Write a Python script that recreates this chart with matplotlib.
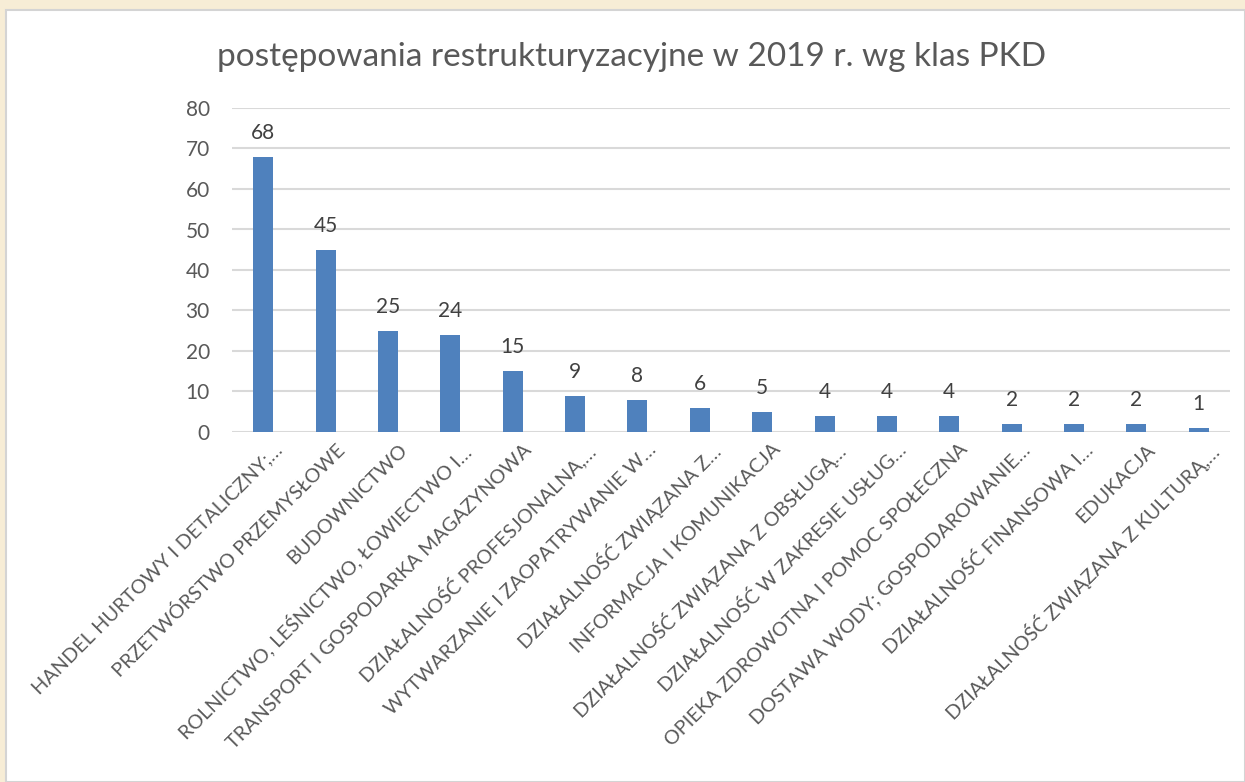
import matplotlib
matplotlib.use("Agg")
import matplotlib.pyplot as plt
from matplotlib.patches import Rectangle
import matplotlib.transforms as mtransforms

categories = [
    "HANDEL HURTOWY I DETALICZNY;…",
    "PRZETWÓRSTWO PRZEMYSŁOWE",
    "BUDOWNICTWO",
    "ROLNICTWO, LEŚNICTWO, ŁOWIECTWO I…",
    "TRANSPORT I GOSPODARKA MAGAZYNOWA",
    "DZIAŁALNOŚĆ PROFESJONALNA,…",
    "WYTWARZANIE I ZAOPATRYWANIE W…",
    "DZIAŁALNOŚĆ ZWIĄZANA Z…",
    "INFORMACJA I KOMUNIKACJA",
    "DZIAŁALNOŚĆ ZWIĄZANA Z OBSŁUGĄ…",
    "DZIAŁALNOŚĆ W ZAKRESIE USŁUG…",
    "OPIEKA ZDROWOTNA I POMOC SPOŁECZNA",
    "DOSTAWA WODY; GOSPODAROWANIE…",
    "DZIAŁALNOŚĆ FINANSOWA I…",
    "EDUKACJA",
    "DZIAŁALNOŚĆ ZWIĄZANA Z KULTURĄ,…",
]
values = [68, 45, 25, 24, 15, 9, 8, 6, 5, 4, 4, 4, 2, 2, 2, 1]
y_ticks = [0, 10, 20, 30, 40, 50, 60, 70, 80]
title = "postępowania restrukturyzacyjne w 2019 r. wg klas PKD"

plt.rcParams['font.family'] = ['Lato', 'DejaVu Sans']
txt_color = "#595959"

fig = plt.figure(figsize=(12.45, 7.82), dpi=100)
fig.patch.set_facecolor("#F7EDD6")
W, H = 1245, 782
panel = Rectangle((6 / W, 0), 1 - 6 / W, 1 - 10 / H, transform=fig.transFigure,
                  facecolor="white", edgecolor="#D4D4D4", linewidth=1.5, zorder=-5)
fig.patches.append(panel)

left, right, bottom, top = 232 / W, 1230 / W, 1 - 432 / H, 1 - 108 / H
ax = fig.add_axes([left, bottom, right - left, top - bottom])
ax.set_zorder(2)
ax.set_facecolor("none")

x = list(range(len(values)))
ax.bar(x, values, width=0.32, color="#4F81BD", zorder=3)
ax.set_xlim(-0.5, len(values) - 0.5)
ax.set_ylim(0, 80)
ax.set_yticks(y_ticks)
ax.yaxis.grid(True, color="#D9D9D9", linewidth=1.5, zorder=0)
for s in ax.spines.values():
    s.set_visible(False)
ax.tick_params(axis='y', length=0, labelsize=15, labelcolor=txt_color, pad=16)
ax.tick_params(axis='x', length=0, labelsize=14.3, labelcolor=txt_color)
ax.set_xticks(x)
offset = mtransforms.ScaledTranslation(10 / 100, -4 / 100, fig.dpi_scale_trans)
ax.set_xticklabels(categories, rotation=45, ha='right', va='top', rotation_mode='anchor')
for lbl in ax.get_xticklabels():
    lbl.set_transform(lbl.get_transform() + offset)

for xi, v in zip(x, values):
    ax.annotate(str(v), (xi, v), xytext=(0, 10), textcoords='offset points',
                ha='center', va='bottom', fontsize=15, color="#404040")

fig.text(632 / W, 1 - 57 / H, title, ha='center', va='center', fontsize=24, color=txt_color)

fig.savefig("out.png", dpi=100, facecolor=fig.get_facecolor())
